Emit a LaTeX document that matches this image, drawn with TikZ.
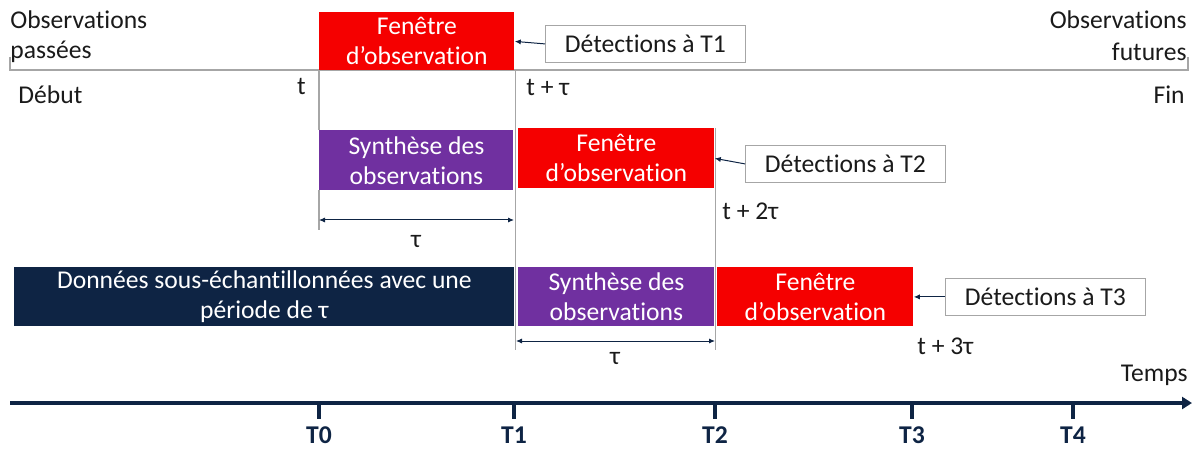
\documentclass[tikz,border=0pt]{standalone}
\usepackage{fontspec}
\setmainfont{Carlito}[Ligatures=NoCommon]
\usetikzlibrary{arrows.meta}
\definecolor{obsred}{HTML}{F50000}
\definecolor{obspurple}{HTML}{7030A0}
\definecolor{obsnavy}{HTML}{0E2444}
\definecolor{guide}{HTML}{A6A6A6}
\definecolor{txt}{HTML}{1A1A1A}
\begin{document}
\begin{tikzpicture}[x=0.5pt,y=-0.5pt,
  font=\fontsize{12.8}{15}\selectfont, text=txt,
  blk/.style={anchor=north west, inner sep=0pt, align=center, text=white},
  redbox/.style={blk, fill=obsred},
  purplebox/.style={blk, fill=obspurple},
  navybox/.style={blk, fill=obsnavy},
  detbox/.style={anchor=north west, inner sep=0pt, draw=guide, fill=white,
    minimum width=100pt, minimum height=18.5pt, text=txt},
  guideline/.style={draw=guide, line width=0.6pt},
  detarrow/.style={draw=obsnavy, line width=0.5pt, -{Latex[length=3pt,width=2.6pt]}},
  dimarrow/.style={draw=obsnavy, line width=0.5pt, {Latex[length=3pt,width=2.6pt]}-{Latex[length=3pt,width=2.6pt]}},
  axisline/.style={draw=obsnavy, line width=2pt, -{Triangle[length=5pt,width=6pt]}},
  tickmark/.style={draw=obsnavy, line width=1.6pt},
  ticklabel/.style={font=\fontsize{12.8}{15}\selectfont\bfseries, text=obsnavy},
  lbl/.style={inner sep=0pt}
]
\useasboundingbox (0,0) rectangle (1195,449);

% top bracket
\coordinate (bl) at (10,57);
\coordinate (blb) at (10,70);
\coordinate (brb) at (1188,70);
\coordinate (br) at (1188,57);
\draw[guideline] (bl) -- (blb) -- (brb) -- (br);

% vertical guides
\coordinate (g0a) at (319,70);
\coordinate (g0b) at (319,130);
\coordinate (g0c) at (319,190);
\coordinate (g0d) at (319,230);
\draw[guideline] (g0a) -- (g0b);
\draw[guideline] (g0c) -- (g0d);
\coordinate (g1a) at (515.5,70);
\coordinate (g1b) at (515.5,350);
\draw[guideline] (g1a) -- (g1b);
\coordinate (g2a) at (715.5,128);
\coordinate (g2b) at (715.5,350);
\draw[guideline] (g2a) -- (g2b);

% row 1
\node[redbox, minimum width=97.5pt, minimum height=29pt] (f1) at (319,12) {Fenêtre\\d’observation};
\node[detbox] (d1) at (545,25) {Détections à T1};
\draw[detarrow] (d1.west) -- (f1.east);

% row 2
\node[purplebox, minimum width=97pt, minimum height=30pt] (s1) at (319,130) {Synthèse des\\observations};
\node[redbox, minimum width=98pt, minimum height=30pt] (f2) at (518,128) {Fenêtre\\d’observation};
\node[detbox] (d2) at (745,145) {Détections à T2};
\draw[detarrow] (d2.west) -- (f2.east);

% row 3
\node[navybox, minimum width=250pt, minimum height=29.5pt] (nv) at (14,267) {Données sous-échantillonnées avec une\\période de τ};
\node[purplebox, minimum width=98pt, minimum height=29.5pt] (s2) at (518,267) {Synthèse des\\observations};
\node[redbox, minimum width=98pt, minimum height=29.5pt] (f3) at (717,267) {Fenêtre\\d’observation};
\node[detbox] (d3) at (945,278) {Détections à T3};
\draw[detarrow] (d3.west) -- (f3.east);

% dimension arrows
\coordinate (a1l) at (319,220);
\coordinate (a1r) at (514,220);
\draw[dimarrow] (a1l) -- (a1r);
\node[lbl] (tau1) at (416,241) {τ};
\coordinate (a2l) at (516,341);
\coordinate (a2r) at (715,341);
\draw[dimarrow] (a2l) -- (a2r);
\node[lbl] (tau2) at (615,358) {τ};

% labels
\node[lbl, anchor=west] (op1) at (10,20) {Observations};
\node[lbl, anchor=west] (op2) at (10,52) {passées};
\node[lbl, anchor=east] (of1) at (1187,20) {Observations};
\node[lbl, anchor=east] (of2) at (1187,52) {futures};
\node[lbl, anchor=west] (deb) at (18,95) {Début};
\node[lbl, anchor=east] (fin) at (1185,95) {Fin};
\node[lbl, anchor=east] (t0) at (306,87) {t};
\node[lbl, anchor=west] (t1) at (526,88) {t + τ};
\node[lbl, anchor=west] (t2) at (722,211) {t + 2τ};
\node[lbl, anchor=west] (t3) at (917,346) {t + 3τ};
\node[lbl, anchor=east] (tps) at (1188,375) {Temps};

% time axis
\coordinate (ax0) at (10,403);
\coordinate (ax1) at (1192,403);
\draw[axisline] (ax0) -- (ax1);
\foreach \x/\n in {319/0,514/1,715/2,912/3,1073/4}{
  \coordinate (tk\n) at (\x,403);
  \coordinate (tkb\n) at (\x,419);
  \draw[tickmark] (tk\n) -- (tkb\n);
  \node[lbl, ticklabel] (T\n) at (\x,435) {T\n};
}
\end{tikzpicture}
\end{document}
